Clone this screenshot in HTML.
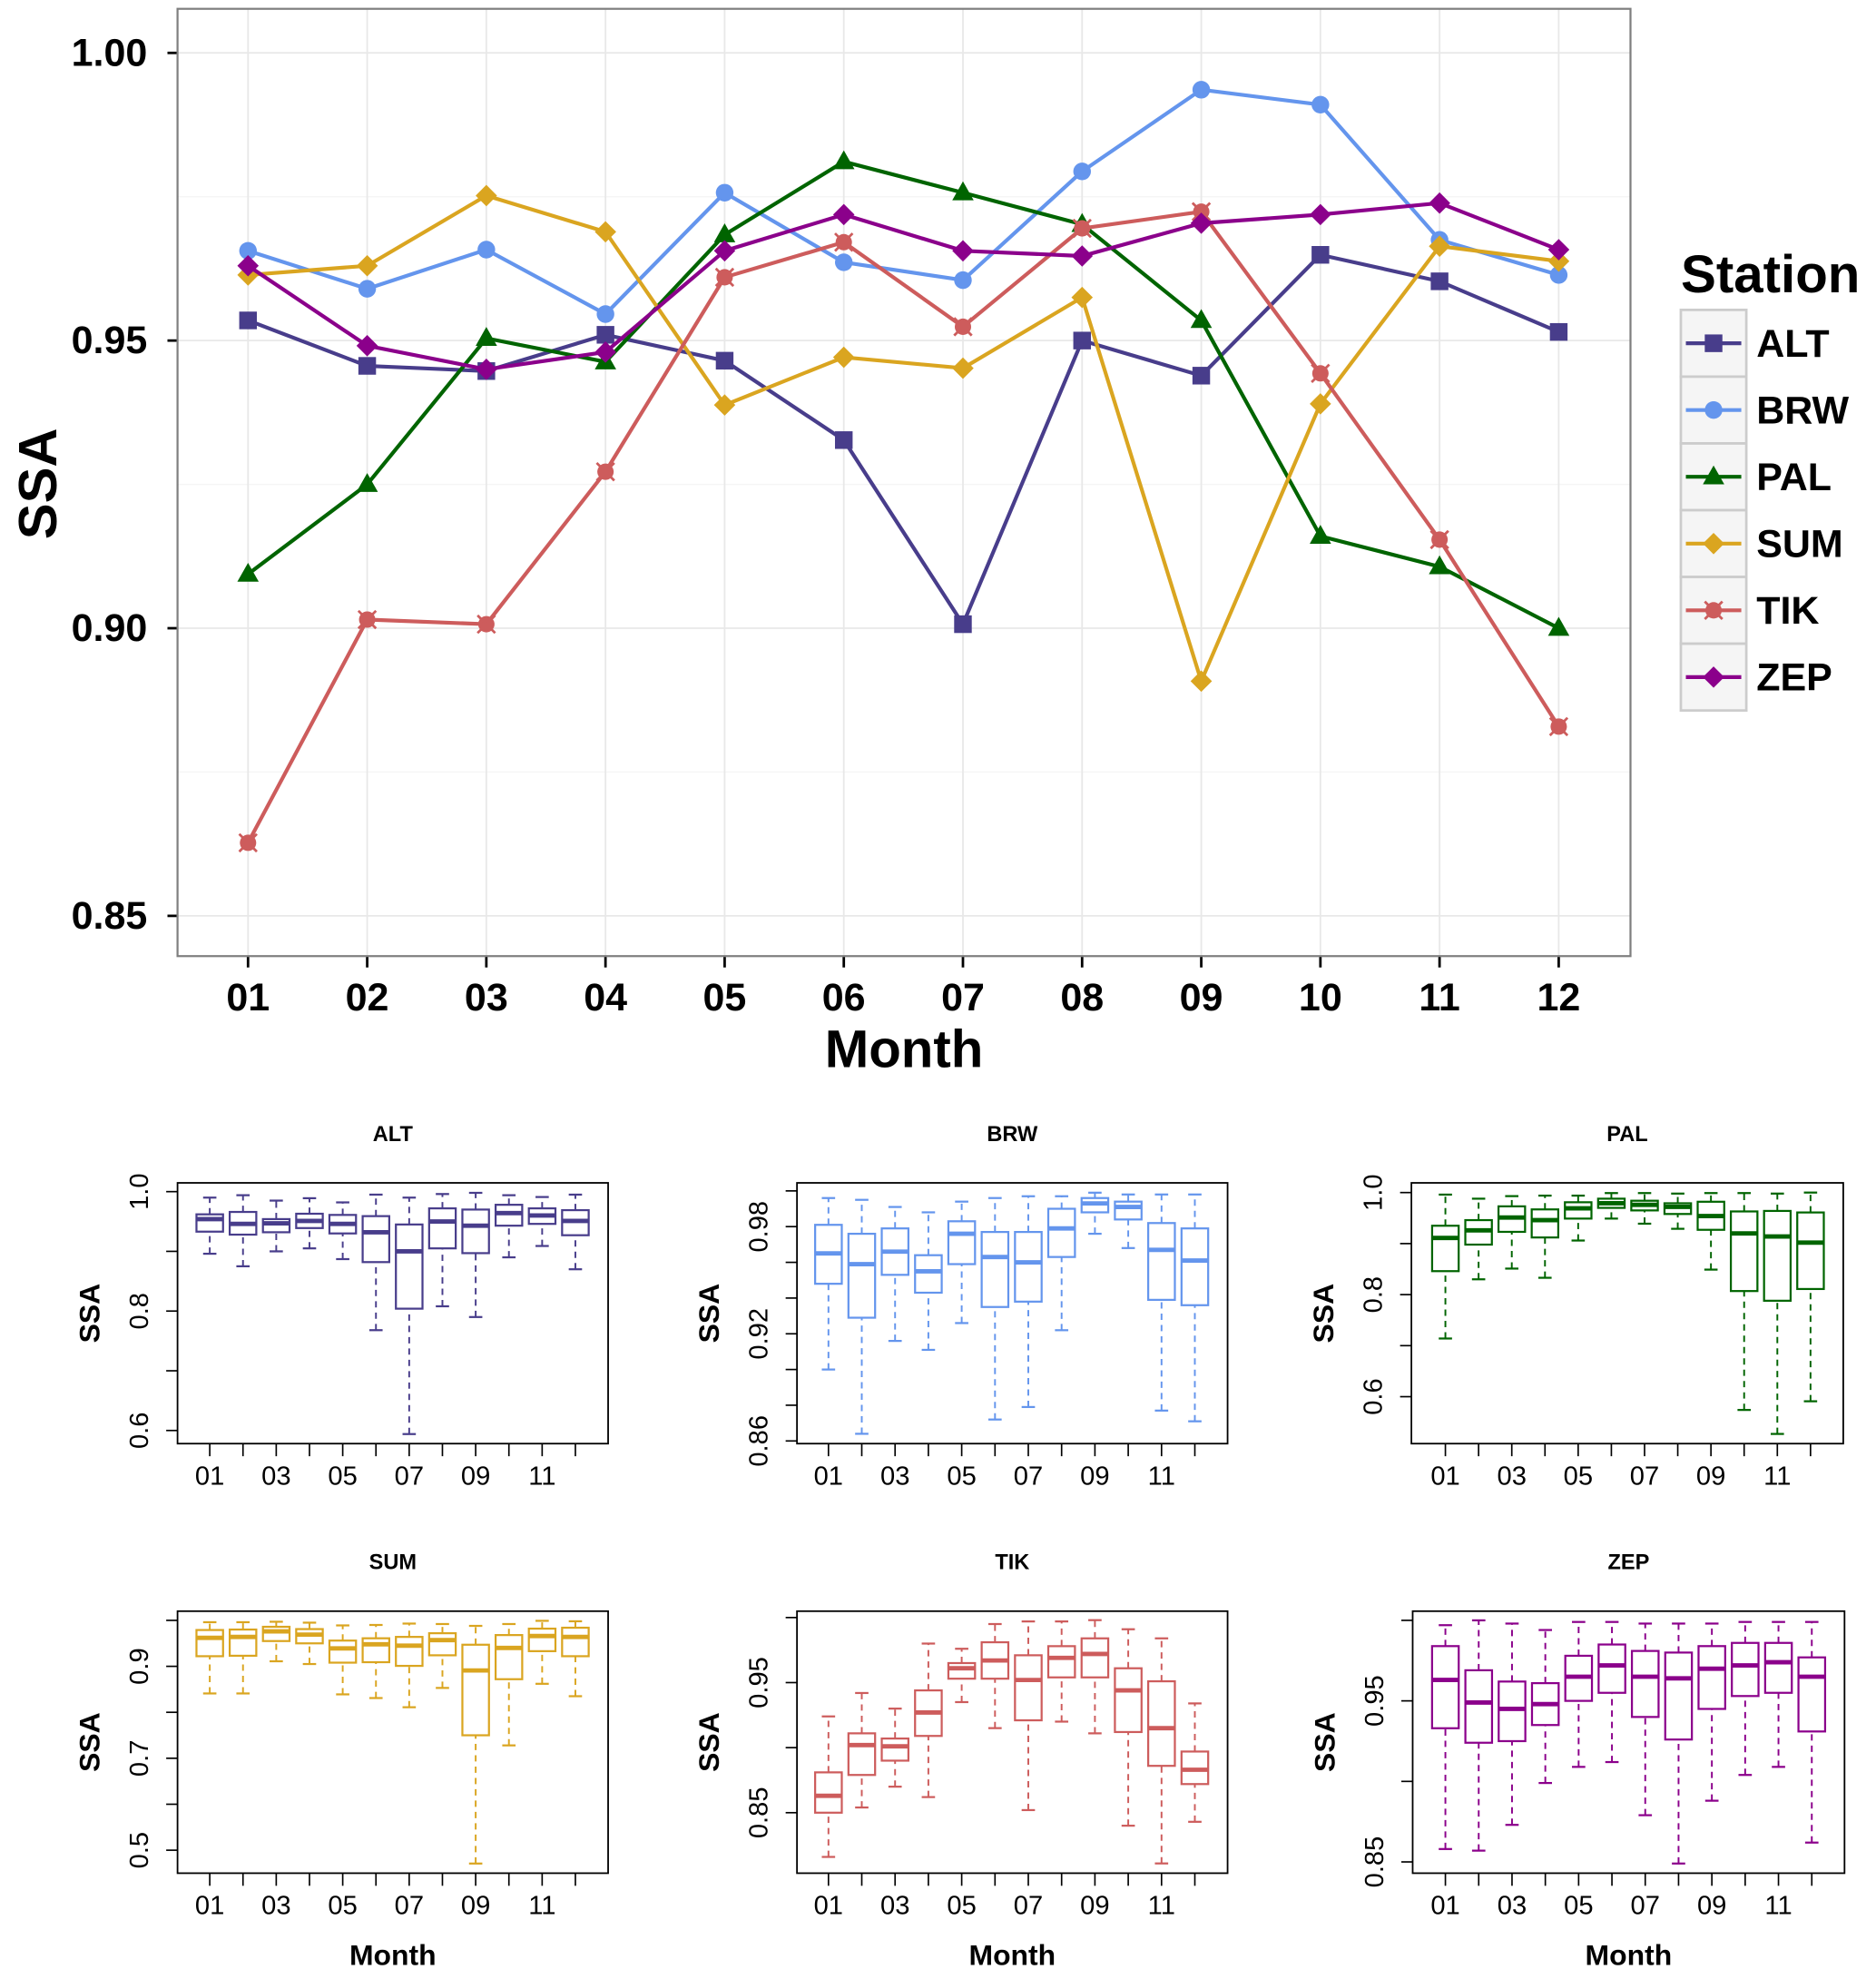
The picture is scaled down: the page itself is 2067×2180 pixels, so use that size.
<!DOCTYPE html>
<html><head><meta charset="utf-8">
<style>
html,body{margin:0;padding:0;background:#fff;}
svg{display:block;font-family:"Liberation Sans",Arial,sans-serif;}
</style></head>
<body>
<svg id="chart" xmlns="http://www.w3.org/2000/svg" width="2067" height="2180" viewBox="0 0 1490 1571" preserveAspectRatio="none"></svg>
<script>
// ---------- DATA ----------
const months = ["01","02","03","04","05","06","07","08","09","10","11","12"];
const stations = ["ALT","BRW","PAL","SUM","TIK","ZEP"];
const altMean = [0.9535,0.9456,0.9447,0.951,0.9465,0.9327,0.9007,0.95,0.9439,0.9649,0.9603,0.9515];
const brwMean = [0.9656,0.959,0.9658,0.9546,0.9757,0.9636,0.9605,0.9794,0.9936,0.991,0.9675,0.9614];
const palMean = [0.9094,0.925,0.9504,0.9463,0.9684,0.9811,0.9757,0.9702,0.9535,0.916,0.9107,0.90];
const sumMean = [0.9614,0.963,0.9752,0.9689,0.9388,0.9471,0.9452,0.9575,0.8908,0.939,0.9664,0.9638];
const tikMean = [0.8627,0.9015,0.9007,0.9272,0.961,0.9671,0.9524,0.9695,0.9724,0.9443,0.9154,0.8829];
const zepMean = [0.963,0.9491,0.945,0.948,0.9656,0.9719,0.9656,0.9647,0.9704,0.9719,0.9739,0.9658];
const mainYTicks = [0.85,0.90,0.95,1.00];
const mainYLabels = ["0.85","0.90","0.95","1.00"];
const mainYMinor = [0.875,0.925,0.975];

// box stats per month: [whisker low, q1, median, q3, whisker high]
const altBoxes = [[.896,.933,.954,.962,.990],[.875,.928,.946,.966,.994],[.900,.932,.947,.954,.985],[.905,.939,.951,.963,.989],[.887,.930,.946,.961,.982],[.768,.882,.932,.959,.995],[.594,.804,.900,.945,.990],[.808,.905,.950,.972,.996],[.790,.897,.943,.970,.998],[.890,.943,.964,.978,.994],[.909,.946,.960,.972,.991],[.870,.927,.951,.969,.995]];
const brwBoxes = [[.900,.948,.965,.981,.996],[.864,.929,.959,.976,.995],[.916,.953,.966,.979,.991],[.911,.943,.955,.964,.988],[.926,.959,.976,.983,.994],[.872,.935,.963,.977,.996],[.879,.938,.960,.977,.997],[.922,.963,.979,.990,.997],[.976,.988,.993,.996,.999],[.968,.984,.991,.994,.998],[.877,.939,.967,.982,.998],[.871,.936,.961,.979,.998]];
const palBoxes = [[.714,.846,.911,.935,.996],[.830,.898,.926,.946,.988],[.851,.923,.951,.973,.993],[.833,.912,.946,.967,.994],[.906,.949,.969,.981,.994],[.949,.970,.979,.988,.999],[.939,.965,.976,.984,.999],[.929,.958,.972,.979,.998],[.849,.927,.954,.982,.999],[.574,.807,.920,.963,.999],[.527,.788,.914,.964,.998],[.591,.811,.902,.961,1.0]];
const sumBoxes = [[.841,.922,.962,.979,.996],[.841,.923,.964,.980,.996],[.911,.955,.976,.986,.997],[.905,.950,.969,.981,.995],[.839,.908,.939,.956,.989],[.831,.909,.948,.961,.990],[.811,.901,.945,.964,.993],[.853,.924,.957,.972,.992],[.471,.750,.891,.947,.988],[.728,.872,.940,.968,.992],[.862,.933,.966,.982,.999],[.835,.922,.964,.984,.998]];
const tikBoxes = [[.816,.850,.863,.881,.924],[.854,.879,.902,.911,.942],[.870,.890,.901,.907,.930],[.862,.909,.927,.944,.980],[.935,.953,.961,.965,.976],[.915,.953,.967,.981,.995],[.852,.921,.952,.971,.997],[.920,.954,.969,.978,.997],[.911,.954,.972,.984,.998],[.840,.912,.944,.961,.991],[.811,.886,.915,.951,.984],[.843,.872,.883,.897,.934]];
const zepBoxes = [[.858,.933,.963,.984,.997],[.857,.924,.949,.969,1.0],[.873,.925,.945,.962,.998],[.899,.935,.948,.961,.994],[.909,.950,.965,.978,.999],[.912,.955,.972,.985,.999],[.879,.940,.965,.981,.998],[.849,.926,.964,.980,.998],[.888,.945,.970,.984,.998],[.904,.953,.972,.986,.999],[.909,.955,.974,.986,.999],[.862,.931,.965,.977,.999]];

const altTicks = [0.6,0.7,0.8,0.9,1.0];   const altTickLabels = ["0.6","","0.8","","1.0"];
const brwTicks = [0.86,0.88,0.90,0.92,0.94,0.96,0.98,1.00]; const brwTickLabels = ["0.86","","","0.92","","","0.98",""];
const palTicks = [0.6,0.7,0.8,0.9,1.0];   const palTickLabels = ["0.6","","0.8","","1.0"];
const sumTicks = [0.5,0.6,0.7,0.8,0.9,1.0]; const sumTickLabels = ["0.5","","0.7","","0.9",""];
const tikTicks = [0.85,0.90,0.95,1.00];   const tikTickLabels = ["0.85","","0.95",""];
const zepTicks = [0.85,0.90,0.95,1.00];   const zepTickLabels = ["0.85","","0.95",""];
const monthLabelsSmall = ["01","","03","","05","","07","","09","","11",""];

// ---------- RENDER ----------
const NS = "http://www.w3.org/2000/svg";
const svg = document.getElementById("chart");
function mk(tag, attrs, parent){
  const e = document.createElementNS(NS, tag);
  for (const k in attrs) e.setAttribute(k, attrs[k]);
  (parent||svg).appendChild(e);
  return e;
}
const colors = {ALT:"#483D8B",BRW:"#6495ED",PAL:"#006400",SUM:"#DAA520",TIK:"#CD5C5C",ZEP:"#8B008B"};
const seriesMap = {ALT:altMean,BRW:brwMean,PAL:palMean,SUM:sumMean,TIK:tikMean,ZEP:zepMean};

// main panel
const P = {x0:141,x1:1295,y0:7,y1:759};
const mx = i => 197 + i*(1238-197)/11;
const my = v => 42 + (1.0 - v)*4567;

const mainG = mk("g",{});


mk("rect",{x:P.x0,y:P.y0,width:P.x1-P.x0,height:P.y1-P.y0,fill:"#fff"},mainG);
mainYMinor.forEach(v=>{
  const l = mk("line",{x1:P.x0,x2:P.x1,y1:my(v),y2:my(v),stroke:"#f5f5f5","stroke-width":1},mainG);
  
  
});
mainYTicks.forEach((v,i)=>{
  const l = mk("line",{x1:P.x0,x2:P.x1,y1:my(v),y2:my(v),stroke:"#e8e8e8","stroke-width":1.3},mainG);
  
  
  mk("line",{x1:P.x0-8,x2:P.x0,y1:my(v),y2:my(v),stroke:"#000","stroke-width":2},mainG);
  const t = mk("text",{x:P.x0-24,y:my(v),"text-anchor":"end","dominant-baseline":"central","font-size":31,"font-weight":"bold"},mainG);
  t.textContent = mainYLabels[i];
  
  
});
months.forEach((m,i)=>{
  const l = mk("line",{x1:mx(i),x2:mx(i),y1:P.y0,y2:P.y1,stroke:"#e8e8e8","stroke-width":1.3},mainG);
  
  
  mk("line",{x1:mx(i),x2:mx(i),y1:P.y1,y2:P.y1+9,stroke:"#000","stroke-width":2},mainG);
  const t = mk("text",{x:mx(i),y:792,"text-anchor":"middle","dominant-baseline":"central","font-size":31,"font-weight":"bold"},mainG);
  t.textContent = m;
  
  
});
const border = mk("rect",{x:P.x0,y:P.y0,width:P.x1-P.x0,height:P.y1-P.y0,fill:"none",stroke:"#7f7f7f","stroke-width":1.6},mainG);



const xt = mk("text",{x:718,y:833,"text-anchor":"middle","dominant-baseline":"central","font-size":42,"font-weight":"bold"});
xt.textContent = "Month";


const yt = mk("text",{x:30,y:384,"text-anchor":"middle","dominant-baseline":"central","font-size":43,"font-weight":"bold",transform:"rotate(-90 30 384)"});
yt.textContent = "SSA";



function marker(st, cx, cy, parent){
  const c = colors[st];
  let e;
  if (st==="ALT") e = mk("rect",{x:cx-7,y:cy-7,width:14,height:14,fill:c},parent);
  else if (st==="BRW") e = mk("circle",{cx:cx,cy:cy,r:7,fill:c},parent);
  else if (st==="PAL") e = mk("polygon",{points:`${cx},${cy-9} ${cx+8.5},${cy+6} ${cx-8.5},${cy+6}`,fill:c},parent);
  else if (st==="SUM" || st==="ZEP") e = mk("polygon",{points:`${cx},${cy-8.5} ${cx+8.5},${cy} ${cx},${cy+8.5} ${cx-8.5},${cy}`,fill:c},parent);
  else {
    e = mk("g",{},parent);
    mk("circle",{cx:cx,cy:cy,r:6.5,fill:c},e);
    mk("path",{d:`M${cx-7} ${cy-7}L${cx+7} ${cy+7}M${cx+7} ${cy-7}L${cx-7} ${cy+7}`,stroke:c,"stroke-width":2},e);
  }
  return e;
}

stations.forEach(st=>{
  const vals = seriesMap[st];
  const g = mk("g",{},mainG);
  
  
  const d = vals.map((v,i)=>(i?"L":"M")+mx(i)+" "+my(v)).join("");
  const line = mk("path",{d:d,fill:"none",stroke:colors[st],"stroke-width":3,"stroke-linejoin":"round"},g);
  
  
  vals.forEach((v,i)=>{
    const p = marker(st, mx(i), my(v), g);
    
    
  });
});

// legend
const lg = mk("g",{});


const ltitle = mk("text",{x:1335,y:218,"dominant-baseline":"central","font-size":42,"font-weight":"bold"},lg);
ltitle.textContent = "Station";


stations.forEach((st,i)=>{
  const y = 246 + i*53;
  const e = mk("g",{},lg);
  
  
  mk("rect",{x:1335,y:y,width:52,height:53,fill:"#f5f5f5",stroke:"#cccccc","stroke-width":2},e);
  mk("line",{x1:1339,x2:1383,y1:y+26.5,y2:y+26.5,stroke:colors[st],"stroke-width":3},e);
  marker(st,1361,y+26.5,e);
  const t = mk("text",{x:1395,y:y+27,"dominant-baseline":"central","font-size":31,"font-weight":"bold"},e);
  t.textContent = st;
});

// box panels
const panels = [
  {st:"ALT",boxes:altBoxes,ticks:altTicks,labels:altTickLabels,x0:141,x1:483,y0:939,y1:1146,vTop:1.0147,vBot:0.578,m1:166.6,m12:457,month:false},
  {st:"BRW",boxes:brwBoxes,ticks:brwTicks,labels:brwTickLabels,x0:633,x1:975,y0:939,y1:1146,vTop:1.0045,vBot:0.8585,m1:658,m12:949,month:false},
  {st:"PAL",boxes:palBoxes,ticks:palTicks,labels:palTickLabels,x0:1121,x1:1464,y0:939,y1:1146,vTop:1.019,vBot:0.508,m1:1148,m12:1438,month:false},
  {st:"SUM",boxes:sumBoxes,ticks:sumTicks,labels:sumTickLabels,x0:141,x1:483,y0:1279,y1:1487,vTop:1.02,vBot:0.45,m1:166.6,m12:457,month:true},
  {st:"TIK",boxes:tikBoxes,ticks:tikTicks,labels:tikTickLabels,x0:633,x1:975,y0:1279,y1:1487,vTop:1.0049,vBot:0.8035,m1:658,m12:949,month:true},
  {st:"ZEP",boxes:zepBoxes,ticks:zepTicks,labels:zepTickLabels,x0:1122,x1:1465,y0:1279,y1:1487,vTop:1.0057,vBot:0.843,m1:1148,m12:1439,month:true}
];
panels.forEach(p=>{
  const c = colors[p.st];
  const g = mk("g",{});
  
  
  const sy = v => p.y0 + (p.vTop - v)/(p.vTop - p.vBot)*(p.y1-p.y0);
  const sx = i => p.m1 + i*(p.m12-p.m1)/11;
  const bw = 0.8*(p.m12-p.m1)/11;
  // boxes
  p.boxes.forEach((b,i)=>{
    const x = sx(i);
    const bg = mk("g",{},g);
    
    
    mk("line",{x1:x,x2:x,y1:sy(b[0]),y2:sy(b[1]),stroke:c,"stroke-width":1.4,"stroke-dasharray":"5 4"},bg);
    mk("line",{x1:x,x2:x,y1:sy(b[3]),y2:sy(b[4]),stroke:c,"stroke-width":1.4,"stroke-dasharray":"5 4"},bg);
    mk("line",{x1:x-bw/4,x2:x+bw/4,y1:sy(b[0]),y2:sy(b[0]),stroke:c,"stroke-width":1.6},bg);
    mk("line",{x1:x-bw/4,x2:x+bw/4,y1:sy(b[4]),y2:sy(b[4]),stroke:c,"stroke-width":1.6},bg);
    mk("rect",{x:x-bw/2,y:sy(b[3]),width:bw,height:Math.max(0.5,sy(b[1])-sy(b[3])),fill:"#fff",stroke:c,"stroke-width":1.6},bg);
    mk("line",{x1:x-bw/2,x2:x+bw/2,y1:sy(b[2]),y2:sy(b[2]),stroke:c,"stroke-width":3.5},bg);
  });
  mk("rect",{x:p.x0,y:p.y0,width:p.x1-p.x0,height:p.y1-p.y0,fill:"none",stroke:"#000","stroke-width":1.3},g);
  // y axis
  p.ticks.forEach((v,i)=>{
    mk("line",{x1:p.x0-9,x2:p.x0,y1:sy(v),y2:sy(v),stroke:"#000","stroke-width":1.2},g);
    if (p.labels[i]) {
      const lx = p.x0-30, ly = sy(v);
      const t = mk("text",{x:lx,y:ly,"text-anchor":"middle","dominant-baseline":"central","font-size":21,transform:`rotate(-90 ${lx} ${ly})`},g);
      t.textContent = p.labels[i];
      
      
    }
  });
  // x axis
  months.forEach((m,i)=>{
    mk("line",{x1:sx(i),x2:sx(i),y1:p.y1,y2:p.y1+10,stroke:"#000","stroke-width":1.2},g);
    if (monthLabelsSmall[i]) {
      const t = mk("text",{x:sx(i),y:p.y1+26,"text-anchor":"middle","dominant-baseline":"central","font-size":21},g);
      t.textContent = monthLabelsSmall[i];
      
      
    }
  });
  const tt = mk("text",{x:(p.x0+p.x1)/2,y:p.y0-39,"text-anchor":"middle","dominant-baseline":"central","font-size":17,"font-weight":"bold"},g);
  tt.textContent = p.st;
  
  
  const ylx = p.x0-70, yly = (p.y0+p.y1)/2;
  const yl = mk("text",{x:ylx,y:yly,"text-anchor":"middle","dominant-baseline":"central","font-size":23,"font-weight":"bold",transform:`rotate(-90 ${ylx} ${yly})`},g);
  yl.textContent = "SSA";
  
  
  if (p.month) {
    const ml = mk("text",{x:(p.x0+p.x1)/2,y:p.y1+65,"text-anchor":"middle","dominant-baseline":"central","font-size":23,"font-weight":"bold"},g);
    ml.textContent = "Month";
    
    
  }
});
</script>
</body></html>
